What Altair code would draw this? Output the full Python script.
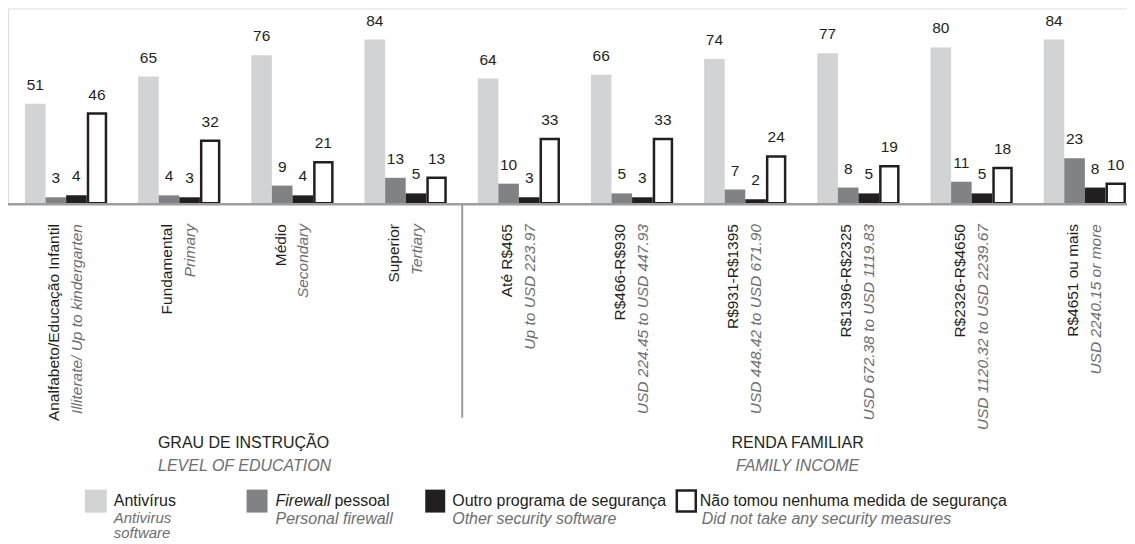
import altair as alt
import pandas as pd

# ---------------- data ----------------
groups_pt = ["Analfabeto/Educação Infantil", "Fundamental", "Médio", "Superior",
             "Até R$465", "R$466-R$930", "R$931-R$1395", "R$1396-R$2325",
             "R$2326-R$4650", "R$4651 ou mais"]
groups_en = ["Illiterate/ Up to kindergarten", "Primary", "Secondary", "Tertiary",
             "Up to USD 223.97", "USD 224.45 to USD 447.93", "USD 448.42 to USD 671.90",
             "USD 672.38 to USD 1119.83", "USD 1120.32 to USD 2239.67", "USD 2240.15 or more"]
series_pt = ["Antivírus", "Firewall pessoal", "Outro programa de segurança",
             "Não tomou nenhuma medida de segurança"]
antivirus = [51, 65, 76, 84, 64, 66, 74, 77, 80, 84]
firewall = [3, 4, 9, 13, 10, 5, 7, 8, 11, 23]
outro = [4, 3, 4, 5, 3, 3, 2, 5, 5, 8]
nao = [46, 32, 21, 13, 33, 33, 24, 19, 18, 10]

colors = ["#d1d3d4", "#808285", "#231f20", "#ffffff"]
BLACK = "#231f20"
GRAY_TXT = "#6d6e71"
AXIS_GRAY = "#9d9d9d"
F = "Liberation Sans"
FS = 16

rows = []
for i, g in enumerate(groups_pt):
    for s, vals in zip(series_pt, [antivirus, firewall, outro, nao]):
        rows.append({"grupo": g, "serie": s, "valor": vals[i]})
df = pd.DataFrame(rows)
lab_df = pd.DataFrame({"grupo": groups_pt, "en": groups_en})
one = pd.DataFrame({"k": [0]})

W, H = 1121, 195

xscale = alt.Scale(domain=groups_pt, range=[17, 1120], paddingInner=0.273, paddingOuter=0)
X = alt.X("grupo:N", scale=xscale, axis=None)
XO = alt.XOffset("serie:N", scale=alt.Scale(domain=series_pt, paddingInner=0, paddingOuter=0))
Y = alt.Y("valor:Q", scale=alt.Scale(domain=[0, 100], nice=False, zero=True), axis=None)

bars = alt.Chart(df).transform_filter(alt.datum.serie != series_pt[3]).mark_bar().encode(
    x=X, xOffset=XO, y=Y,
    color=alt.Color("serie:N", scale=alt.Scale(domain=series_pt, range=colors), legend=None),
)
bars_nao = alt.Chart(df).transform_filter(alt.datum.serie == series_pt[3]).mark_bar(
    width=18, fill="white", stroke=BLACK, strokeWidth=2.5
).encode(x=X, xOffset=XO, y=Y)

values = alt.Chart(df).mark_text(dy=-19, baseline="middle", fontSize=15.5, font=F, color=BLACK).encode(
    x=X, xOffset=XO, y=Y, text="valor:Q"
)

lab_pt = alt.Chart(lab_df).mark_text(angle=270, align="right", baseline="middle", dy=-12,
                                     fontSize=15.5, font=F, color=BLACK).encode(
    x=X, y=alt.value(216), text="grupo:N")
lab_en = alt.Chart(lab_df).mark_text(angle=270, align="right", baseline="middle", dy=11,
                                     fontSize=15.5, font=F, color=GRAY_TXT, fontStyle="italic").encode(
    x=X, y=alt.value(216), text="en:N")

axis_rule = alt.Chart(one).mark_rule(color=AXIS_GRAY, strokeWidth=2.5).encode(
    x=alt.value(0), x2=alt.value(W), y=alt.value(196))
sep_rule = alt.Chart(one).mark_rule(color=AXIS_GRAY, strokeWidth=2).encode(
    x=alt.value(455), y=alt.value(196), y2=alt.value(410))


def txt(s, x, y, color=BLACK, style="normal", align="left", size=FS):
    return alt.Chart(one).mark_text(text=s, align=align, baseline="middle", fontSize=size, font=F,
                                    color=color, fontStyle=style).encode(
        x=alt.value(x), y=alt.value(y))


def box(x, x2, y, y2, fill, stroke=None):
    kw = dict(fill=fill)
    if stroke:
        kw.update(stroke=stroke, strokeWidth=2.5)
    else:
        kw.update(strokeWidth=0)
    return alt.Chart(one).mark_rect(**kw).encode(
        x=alt.value(x), x2=alt.value(x2), y=alt.value(y), y2=alt.value(y2))


annots = [
    txt("GRAU DE INSTRUÇÃO", 236, 435, align="center"),
    txt("LEVEL OF EDUCATION", 237, 458, color=GRAY_TXT, style="italic", align="center"),
    txt("RENDA FAMILIAR", 791, 435, align="center"),
    txt("FAMILY INCOME", 791, 458, color=GRAY_TXT, style="italic", align="center"),
    box(77, 99, 482, 505, colors[0]),
    box(239, 260, 482, 505, colors[1]),
    box(418, 438, 482, 505, colors[2]),
    box(670, 689, 483, 504, "white", BLACK),
    txt("Antivírus", 106, 493),
    txt("Antivirus", 106, 510, color=GRAY_TXT, style="italic", size=15),
    txt("software", 106, 525, color=GRAY_TXT, style="italic", size=15),
    txt("Firewall", 268, 493, style="italic"),
    txt("pessoal", 327, 493),
    txt("Personal firewall", 268, 511, color=GRAY_TXT, style="italic"),
    txt("Outro programa de segurança", 445, 493),
    txt("Other security software", 445, 511, color=GRAY_TXT, style="italic"),
    txt("Não tomou nenhuma medida de segurança", 693, 493),
    txt("Did not take any security measures", 695, 511, color=GRAY_TXT, style="italic"),
]

chart = alt.layer(bars, bars_nao, axis_rule, sep_rule, values, lab_pt, lab_en, *annots).properties(
    width=W, height=H,
    autosize=alt.AutoSizeParams(type="none"),
    padding={"left": 0, "top": 0, "right": 0, "bottom": 341},
).configure_view(stroke=None).configure(font=F)

chart.save("out.html", embed_options={"renderer": "svg", "actions": False})
